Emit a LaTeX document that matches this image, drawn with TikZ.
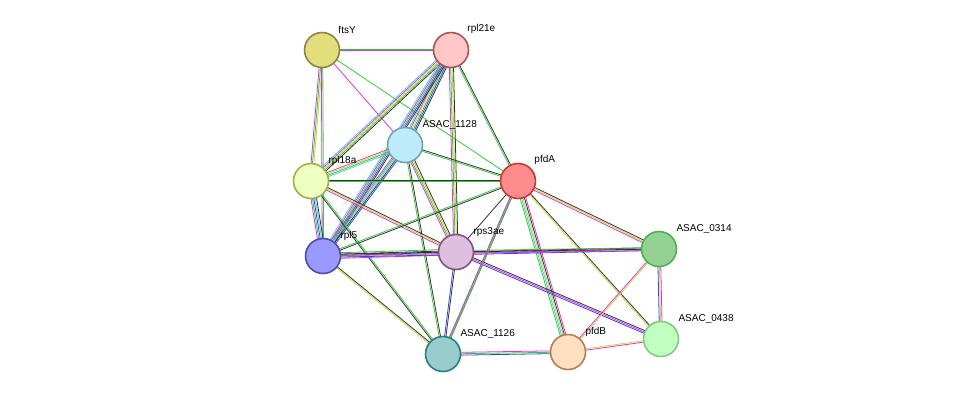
\documentclass[tikz,border=0pt]{standalone}
\usepackage{fontspec}
\setmainfont{Liberation Sans}
\usetikzlibrary{calc}
\definecolor{eg}{HTML}{33CC33}
\definecolor{ek}{HTML}{333333}
\definecolor{em}{HTML}{DD33DD}
\definecolor{ey}{HTML}{C8D830}
\definecolor{eb}{HTML}{3344EE}
\definecolor{ec}{HTML}{44CCEE}
\tikzset{
  prot/.style={circle,minimum size=35pt,inner sep=0pt,line width=1.6pt},
  lbl/.style={font=\fontsize{8.5}{10}\selectfont,label distance=-9pt},
}
% parallel coloured lines between two proteins
\newcommand\pedge[4]{%
  \foreach \c [count=\i] in {#4} {%
    \pgfmathsetmacro\o{(\i-(#3+1)/2)*1.4}
    \draw[\c,line width=0.8pt] ($(#1)!\o pt!90:(#2)$) -- ($(#2)!\o pt!-90:(#1)$);
  }}
\begin{document}
\begin{tikzpicture}[x=1pt,y=-1pt]
    \useasboundingbox (0,0) rectangle (976,400);
    % Coordinates of the proteins
    \coordinate (ftsY) at (322,50);
    \coordinate (rpl21e) at (451,50);
    \coordinate (a1128) at (405,145);
    \coordinate (rpl18a) at (311,181);
    \coordinate (pfdA) at (518,181);
    \coordinate (rpl5) at (323,256);
    \coordinate (rps3ae) at (456,252);
    \coordinate (a0314) at (659,249);
    \coordinate (a0438) at (661,339);
    \coordinate (pfdB) at (568,352);
    \coordinate (a1126) at (443,354);

    % Interactions
    \pedge{ftsY}{rpl21e}{2}{em,eg}
    \pedge{ftsY}{rpl18a}{3}{em,eg,ey}
    \pedge{ftsY}{rpl5}{2}{em,eg}
    \pedge{ftsY}{a1128}{1}{em}
    \pedge{ftsY}{pfdA}{1}{eg}
    \pedge{rpl21e}{a1128}{6}{ec,em,ey,eg,eb,ek}
    \pedge{rpl21e}{rpl18a}{5}{ec,em,ey,eg,ek}
    \pedge{rpl21e}{rpl5}{5}{ec,em,eg,eb,ek}
    \pedge{rpl21e}{rps3ae}{4}{em,eg,ey,ek}
    \pedge{rpl21e}{pfdA}{2}{eg,ek}
    \pedge{a1128}{rpl18a}{4}{em,ey,eg,ec}
    \pedge{a1128}{pfdA}{2}{eg,ek}
    \pedge{a1128}{rpl5}{5}{em,eg,ec,ek,eb}
    \pedge{a1128}{rps3ae}{4}{em,eg,ey,ek}
    \pedge{a1128}{a1126}{2}{eg,ek}
    \pedge{rpl18a}{pfdA}{2}{eg,ek}
    \pedge{rpl18a}{rpl5}{5}{em,eg,eb,ec,ek}
    \pedge{rpl18a}{rps3ae}{3}{em,ey,ek}
    \pedge{rpl18a}{a1126}{2}{ek,eg}
    \pedge{pfdA}{rpl5}{2}{eg,ek}
    \pedge{pfdA}{rps3ae}{1}{ek}
    \pedge{pfdA}{a1126}{2}{eg,ek}
    \pedge{pfdA}{pfdB}{5}{eg,ec,ey,ek,em}
    \pedge{pfdA}{a0314}{3}{em,ey,ek}
    \pedge{pfdA}{a0438}{2}{ey,ek}
    \pedge{rpl5}{rps3ae}{5}{em,ey,eb,ek,eg}
    \pedge{rpl5}{a1126}{2}{ey,ek}
    \pedge{rpl5}{a0314}{3}{eb,em,ek}
    \pedge{rps3ae}{a1126}{2}{eb,ek}
    \pedge{rps3ae}{a0314}{3}{em,ek,eg}
    \pedge{rps3ae}{a0438}{3}{eb,em,ek}
    \pedge{a1126}{pfdB}{3}{eb,eg,em}
    \pedge{a1126}{pfdA}{2}{eg,em}
    \pedge{pfdB}{a0314}{2}{ey,em}
    \pedge{pfdB}{a0438}{2}{em,ey}
    \pedge{a0314}{a0438}{3}{eb,ey,em}

    % Proteins
    \node[prot,fill=yellow!45!olive!45,draw=olive!70!black!80,lbl,label={45:ftsY}] at (ftsY) {};
    \node[prot,fill=red!22,draw=red!35!gray,lbl,label={45:rpl21e}] at (rpl21e) {};
    \node[prot,fill=cyan!25,draw=cyan!40!gray,lbl,label={40:ASAC\_1128}] at (a1128) {};
    \node[prot,fill=lime!25,draw=lime!40!gray,lbl,label={40:rpl18a}] at (rpl18a) {};
    \node[prot,fill=red!45,draw=red!55!gray,lbl,label={45:pfdA}] at (pfdA) {};
    \node[prot,fill=blue!40,draw=blue!40!gray,lbl,label={40:rpl5}] at (rpl5) {};
    \node[prot,fill=violet!25,draw=violet!35!gray,lbl,label={40:rps3ae}] at (rps3ae) {};
    \node[prot,fill=green!40!gray!60!white,draw=green!40!gray,lbl,label={40:ASAC\_0314}] at (a0314) {};
    \node[prot,fill=green!25!white,draw=green!40!gray!70,lbl,label={40:ASAC\_0438}] at (a0438) {};
    \node[prot,fill=orange!25,draw=orange!40!gray,lbl,label={40:pfdB}] at (pfdB) {};
    \node[prot,fill=teal!40,draw=teal!70!gray,lbl,label={40:ASAC\_1126}] at (a1126) {};
\end{tikzpicture}
\end{document}
